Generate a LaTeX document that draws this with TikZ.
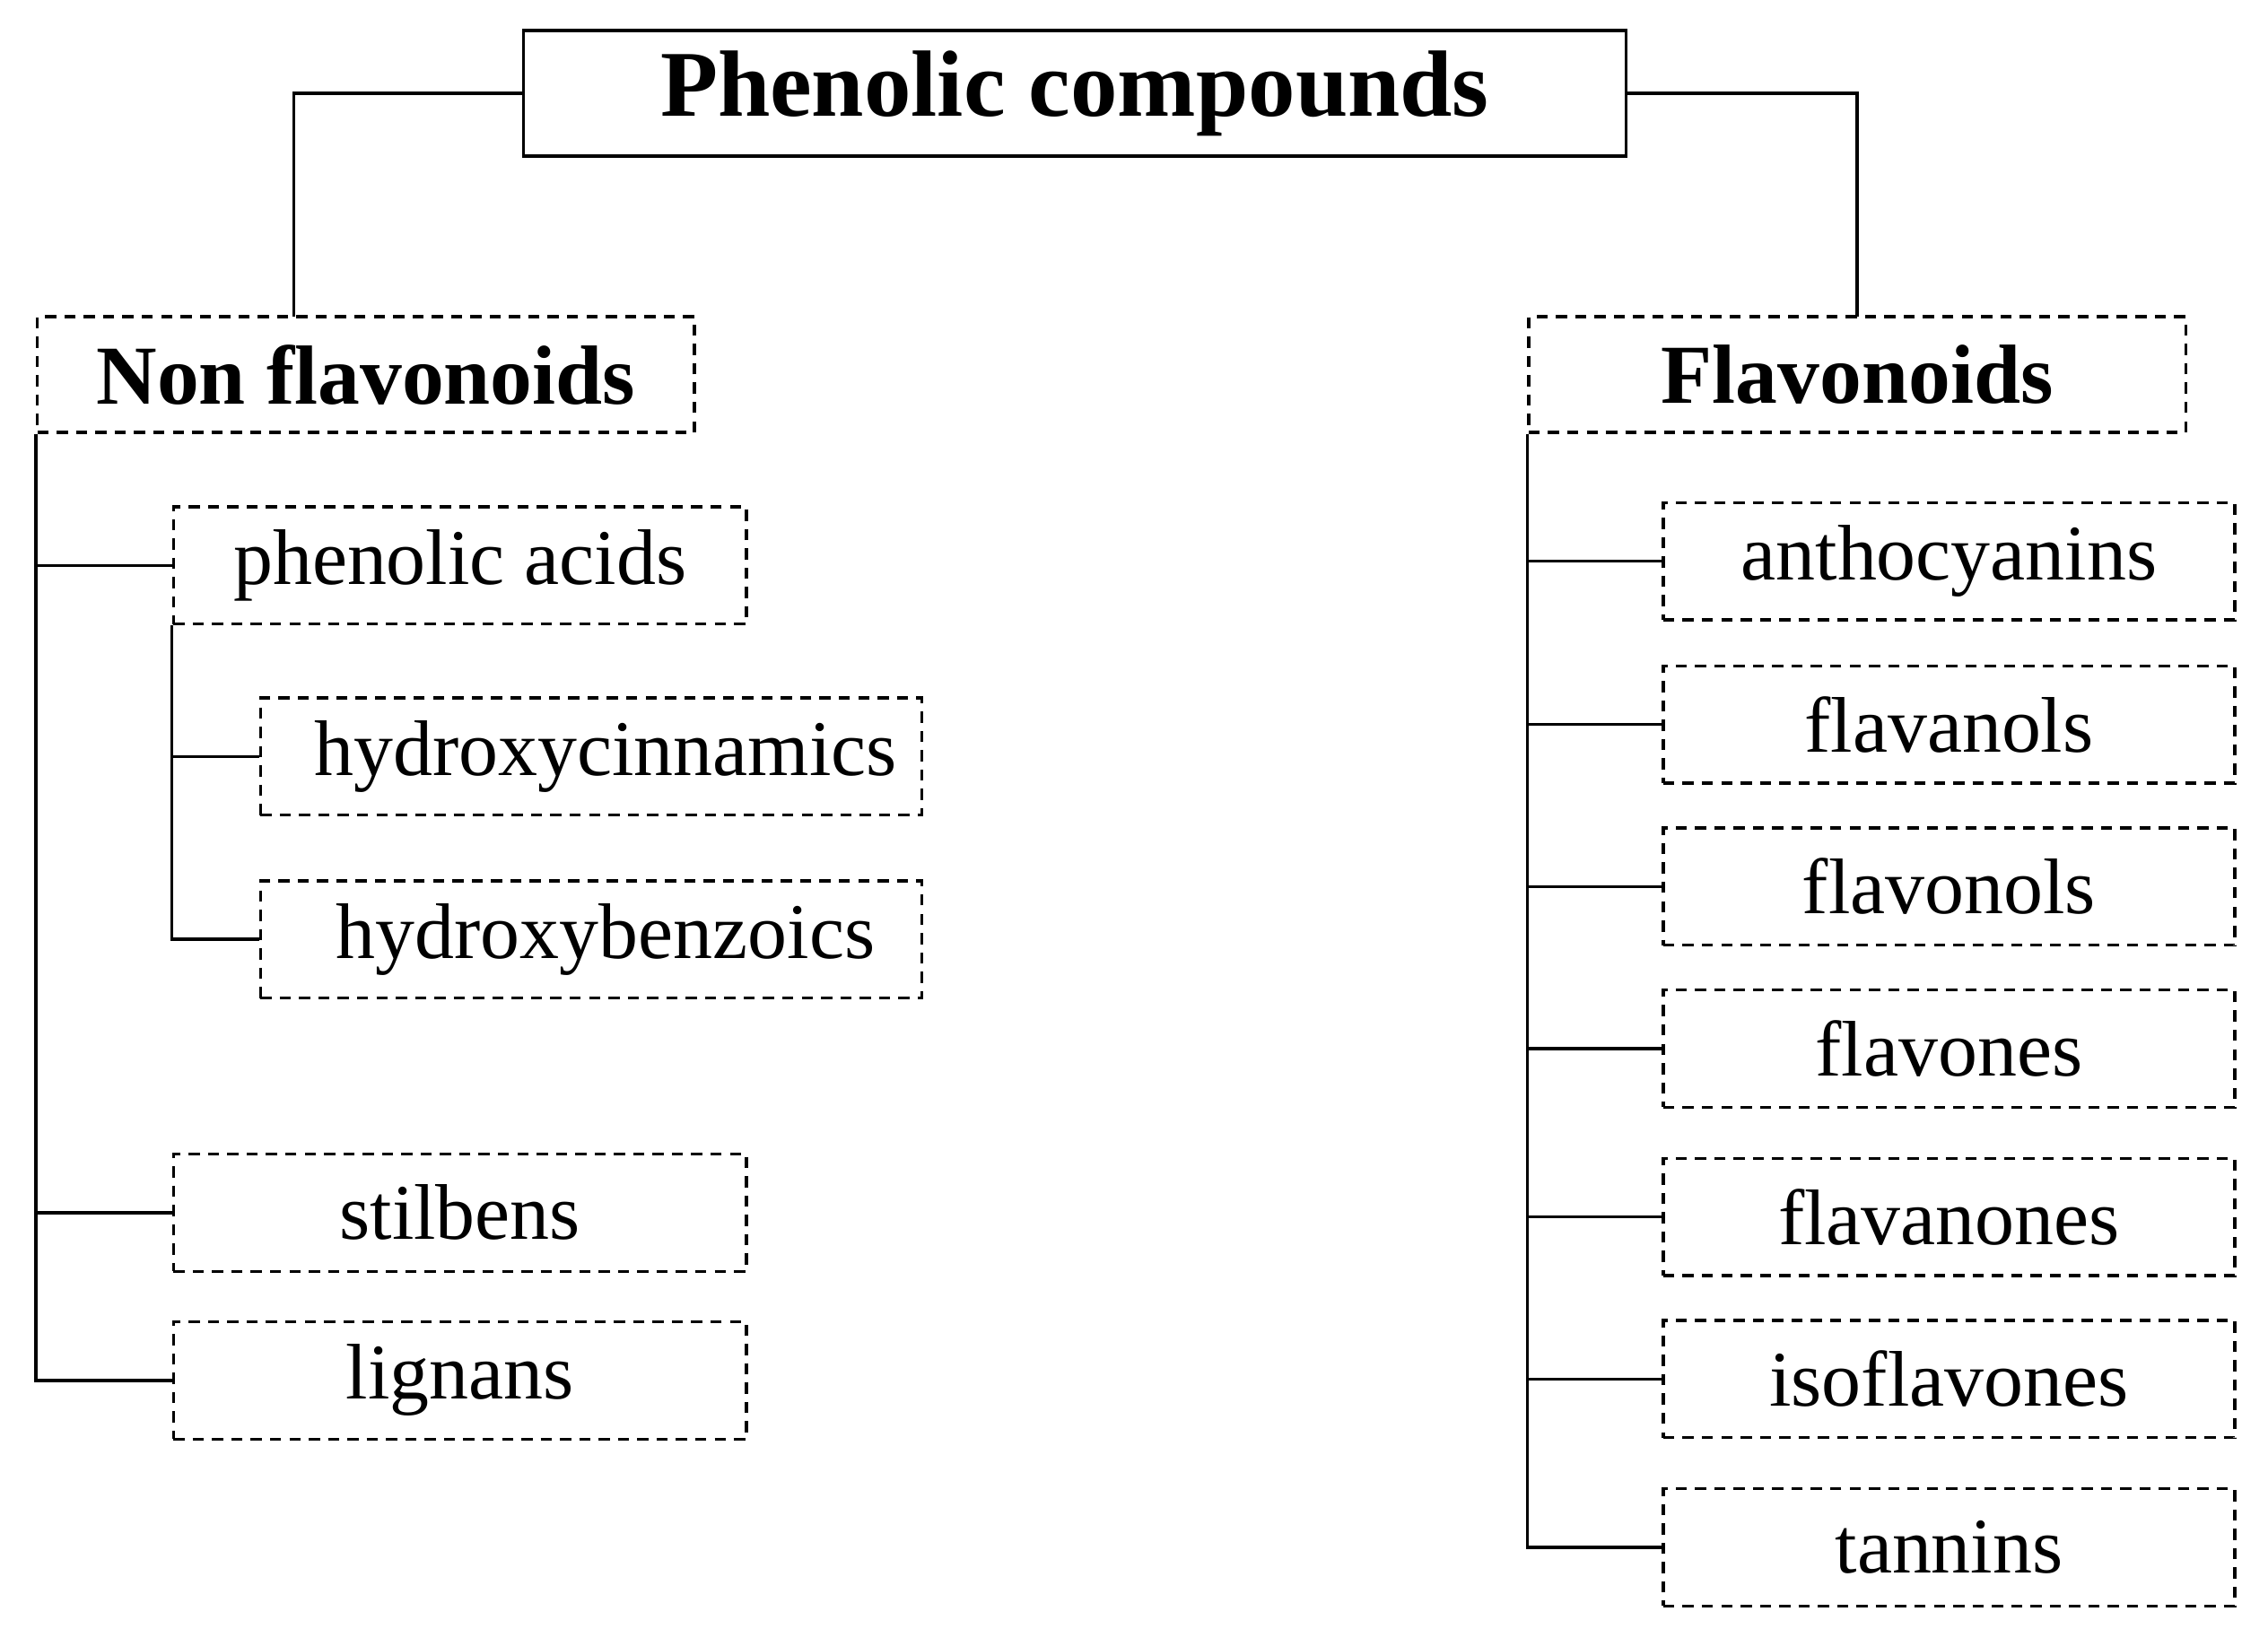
\documentclass[tikz,border=0pt]{standalone}
\usepackage{fontspec}
\setmainfont{Liberation Serif}
\begin{document}
\begin{tikzpicture}[x=0.01cm,y=-0.01cm,line width=0.6pt,
  box/.style={draw,dash pattern=on 2.2pt off 1.6pt,inner sep=0pt,font=\fontsize{15.5}{18}\selectfont},
  hdr/.style={box,font=\fontsize{16.5}{20}\selectfont\bfseries,minimum width=4.54cm,minimum height=0.8cm},
  sub/.style={box,minimum width=3.96cm,minimum height=0.81cm},
  sub2/.style={box,minimum width=4.57cm,minimum height=0.81cm},
  fl/.style={box,minimum width=3.95cm,minimum height=0.81cm}]
\useasboundingbox (0,0) rectangle (1568,1126);
\node[draw,solid,inner sep=0pt,minimum width=7.62cm,minimum height=0.87cm,font=\fontsize{18.5}{22}\selectfont\bfseries] (top) at (743,64.5) {Phenolic compounds};
\node[hdr] (nf) at (253,259) {Non flavonoids};
\node[hdr] (fv) at (1284,259) {Flavonoids};
\node[sub] (pa) at (318,391) {phenolic acids};
\node[sub2,anchor=west] (hc) at (179,523) {\hspace{0.2cm}hydroxycinnamics};
\node[sub2,anchor=west] (hb) at (179,649.5) {\hspace{0.2cm}hydroxybenzoics};
\node[sub] (st) at (318,838.5) {stilbens};
\node[sub] (lg) at (318,954.5) {lignans};
\node[fl] (f1) at (1347.5,388) {anthocyanins};
\node[fl] (f2) at (1347.5,501) {flavanols};
\node[fl] (f3) at (1347.5,613) {flavonols};
\node[fl] (f4) at (1347.5,725) {flavones};
\node[fl] (f5) at (1347.5,841.5) {flavanones};
\node[fl] (f6) at (1347.5,953.5) {isoflavones};
\node[fl] (f7) at (1347.5,1070) {tannins};
\coordinate (nft) at (203,219);
\coordinate (fvt) at (1284,219);
\draw (top.west) -| (nft);
\draw (top.east) -| (fvt);
\draw (nf.south west) |- (lg.west);
\draw (nf.south west) |- (pa.west);
\draw (nf.south west) |- (st.west);
\draw (pa.south west) |- (hb.west);
\draw (pa.south west) |- (hc.west);
\foreach \n in {f1,f2,f3,f4,f5,f6,f7} \draw (fv.south west) |- (\n.west);
\end{tikzpicture}
\end{document}
